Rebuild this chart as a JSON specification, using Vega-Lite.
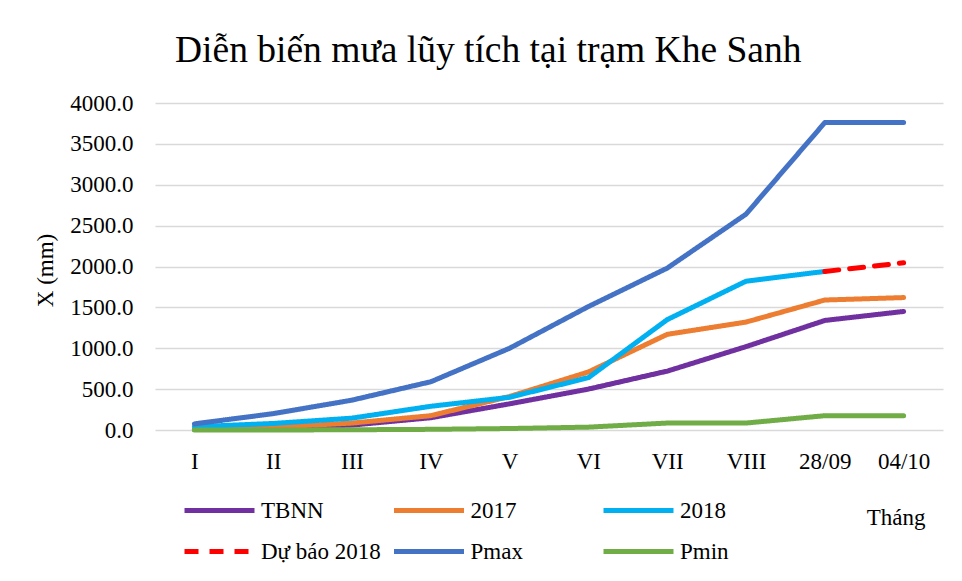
{
  "$schema": "https://vega.github.io/schema/vega-lite/v6.json",
  "width": 788,
  "height": 327,
  "autosize": {"type": "none"},
  "padding": {"left": 155, "top": 103, "right": 19, "bottom": 151},
  "background": "white",
  "title": {
    "text": "Diễn biến mưa lũy tích tại trạm Khe Sanh",
    "font": "Liberation Serif",
    "fontSize": 37.5,
    "fontWeight": "normal",
    "color": "#000000",
    "anchor": "start",
    "frame": "group",
    "dx": 20,
    "offset": 23
  },
  "data": {
    "values": [
      {"thang": "I", "series": "TBNN", "x": 5},
      {"thang": "II", "series": "TBNN", "x": 20},
      {"thang": "III", "series": "TBNN", "x": 60},
      {"thang": "IV", "series": "TBNN", "x": 150},
      {"thang": "V", "series": "TBNN", "x": 320},
      {"thang": "VI", "series": "TBNN", "x": 500},
      {"thang": "VII", "series": "TBNN", "x": 720},
      {"thang": "VIII", "series": "TBNN", "x": 1020},
      {"thang": "28/09", "series": "TBNN", "x": 1340},
      {"thang": "04/10", "series": "TBNN", "x": 1450},
      {"thang": "I", "series": "2017", "x": 10},
      {"thang": "II", "series": "2017", "x": 35},
      {"thang": "III", "series": "2017", "x": 85},
      {"thang": "IV", "series": "2017", "x": 175},
      {"thang": "V", "series": "2017", "x": 410},
      {"thang": "VI", "series": "2017", "x": 710},
      {"thang": "VII", "series": "2017", "x": 1170},
      {"thang": "VIII", "series": "2017", "x": 1320},
      {"thang": "28/09", "series": "2017", "x": 1590},
      {"thang": "04/10", "series": "2017", "x": 1620},
      {"thang": "I", "series": "2018", "x": 40},
      {"thang": "II", "series": "2018", "x": 80},
      {"thang": "III", "series": "2018", "x": 145},
      {"thang": "IV", "series": "2018", "x": 290},
      {"thang": "V", "series": "2018", "x": 400},
      {"thang": "VI", "series": "2018", "x": 640},
      {"thang": "VII", "series": "2018", "x": 1350},
      {"thang": "VIII", "series": "2018", "x": 1820},
      {"thang": "28/09", "series": "2018", "x": 1940},
      {"thang": "28/09", "series": "Dự báo 2018", "x": 1940},
      {"thang": "04/10", "series": "Dự báo 2018", "x": 2045},
      {"thang": "I", "series": "Pmax", "x": 75},
      {"thang": "II", "series": "Pmax", "x": 200},
      {"thang": "III", "series": "Pmax", "x": 365},
      {"thang": "IV", "series": "Pmax", "x": 590},
      {"thang": "V", "series": "Pmax", "x": 1000},
      {"thang": "VI", "series": "Pmax", "x": 1510},
      {"thang": "VII", "series": "Pmax", "x": 1980},
      {"thang": "VIII", "series": "Pmax", "x": 2640},
      {"thang": "28/09", "series": "Pmax", "x": 3760},
      {"thang": "04/10", "series": "Pmax", "x": 3760},
      {"thang": "I", "series": "Pmin", "x": 0},
      {"thang": "II", "series": "Pmin", "x": 0},
      {"thang": "III", "series": "Pmin", "x": 3},
      {"thang": "IV", "series": "Pmin", "x": 8},
      {"thang": "V", "series": "Pmin", "x": 18},
      {"thang": "VI", "series": "Pmin", "x": 35},
      {"thang": "VII", "series": "Pmin", "x": 85},
      {"thang": "VIII", "series": "Pmin", "x": 85},
      {"thang": "28/09", "series": "Pmin", "x": 175},
      {"thang": "04/10", "series": "Pmin", "x": 175}
    ]
  },
  "mark": {"type": "line", "strokeWidth": 5, "strokeCap": "round", "strokeJoin": "round"},
  "encoding": {
    "x": {
      "field": "thang",
      "type": "ordinal",
      "sort": ["I", "II", "III", "IV", "V", "VI", "VII", "VIII", "28/09", "04/10"],
      "scale": {"paddingInner": 0, "paddingOuter": 0.5, "align": 0.5},
      "axis": {
        "title": "Tháng",
        "titleFont": "Liberation Serif",
        "titleFontSize": 23,
        "titleFontWeight": "normal",
        "titleColor": "#000000",
        "titleAnchor": "end",
        "titleAlign": "right",
        "titleBaseline": "middle",
        "titleX": 770,
        "titleY": 87,
        "labelAngle": 0,
        "labelFont": "Liberation Serif",
        "labelFontSize": 23,
        "labelColor": "#000000",
        "labelPadding": 20,
        "labelBaseline": "top",
        "domain": false,
        "ticks": false,
        "grid": false
      }
    },
    "y": {
      "field": "x",
      "type": "quantitative",
      "scale": {"domain": [0, 4000], "nice": false},
      "axis": {
        "title": "X (mm)",
        "titleFont": "Liberation Serif",
        "titleFontSize": 23,
        "titleFontWeight": "normal",
        "titleColor": "#000000",
        "titleX": -110,
        "titleY": 167,
        "titleAngle": -90,
        "titleAlign": "center",
        "titleBaseline": "middle",
        "values": [0, 500, 1000, 1500, 2000, 2500, 3000, 3500, 4000],
        "format": ".1f",
        "labelFont": "Liberation Serif",
        "labelFontSize": 23,
        "labelColor": "#000000",
        "labelPadding": 22,
        "domain": false,
        "ticks": false,
        "grid": true,
        "gridColor": "#d9d9d9",
        "gridWidth": 1.5
      }
    },
    "color": {
      "field": "series",
      "type": "nominal",
      "scale": {
        "domain": ["TBNN", "2017", "2018", "Dự báo 2018", "Pmax", "Pmin"],
        "range": ["#7030A0", "#ED7D31", "#00B0F0", "#FF0000", "#4472C4", "#70AD47"]
      },
      "legend": {"title": null}
    },
    "strokeDash": {
      "field": "series",
      "type": "nominal",
      "scale": {
        "domain": ["TBNN", "2017", "2018", "Dự báo 2018", "Pmax", "Pmin"],
        "range": [[1, 0], [1, 0], [1, 0], [14, 11], [1, 0], [1, 0]]
      },
      "legend": {"title": null}
    }
  },
  "config": {
    "font": "Liberation Serif",
    "view": {"stroke": null},
    "legend": {
      "orient": "none",
      "legendX": 44.5,
      "legendY": 387.5,
      "direction": "horizontal",
      "columns": 3,
      "gridAlign": "all",
      "columnPadding": 2.5,
      "rowPadding": 9,
      "symbolType": "M-2,0H2",
      "symbolSize": 1225,
      "symbolStrokeWidth": 5,
      "symbolFillColor": "transparent",
      "labelFont": "Liberation Serif",
      "labelFontSize": 23,
      "labelColor": "#000000",
      "labelOffset": 21.5,
      "labelLimit": 300
    }
  }
}
